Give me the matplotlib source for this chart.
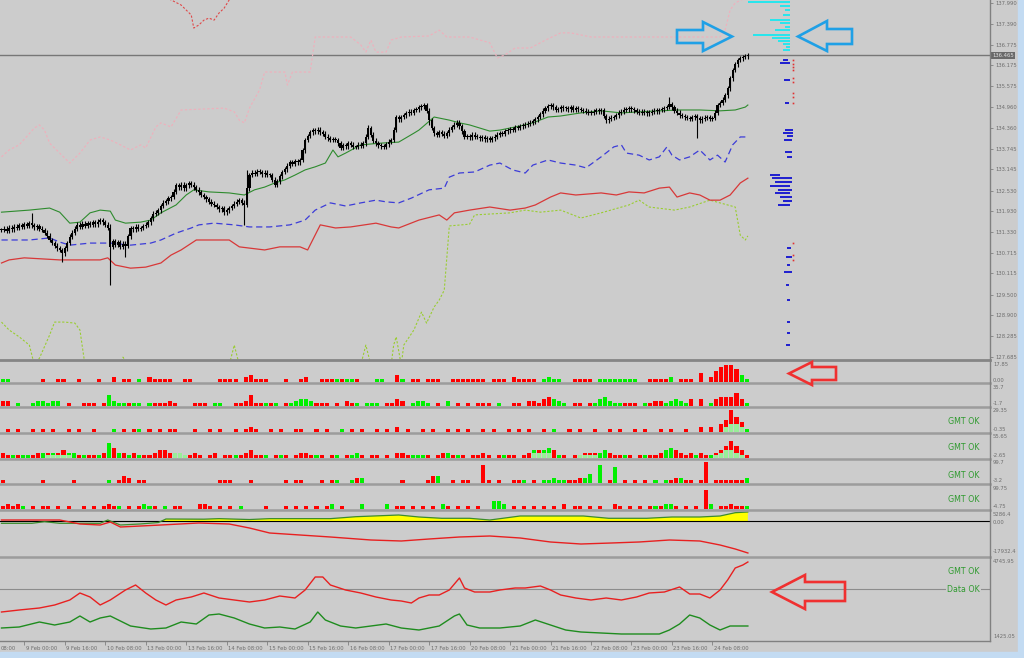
import numpy as np
import matplotlib
matplotlib.use("Agg")
import matplotlib.pyplot as plt
import matplotlib.transforms as mtransforms
from matplotlib.patches import Polygon, Rectangle
from matplotlib.lines import Line2D

# ---------------- DATA ----------------
closes = [
 131.38,131.42,131.35,131.45,131.40,131.48,131.44,131.52,131.47,131.55,131.50,131.58,131.52,131.46,131.50,131.42,131.38,131.30,131.22,131.09,
 131.00,130.92,130.85,130.80,130.70,130.85,131.00,131.18,131.30,131.42,131.53,131.48,131.56,131.50,131.58,131.53,131.60,131.55,131.62,131.67,
 131.60,131.53,131.45,130.90,131.05,130.95,131.02,130.90,130.98,130.92,131.20,131.44,131.40,131.48,131.42,131.44,131.50,131.53,131.60,131.72,
 131.85,131.88,131.95,132.08,132.17,132.22,132.30,132.34,132.50,132.69,132.62,132.70,132.60,132.68,132.75,132.70,132.62,132.55,132.48,132.40,
 132.34,132.28,132.20,132.15,132.11,132.05,131.98,132.02,131.90,131.95,132.02,132.08,132.15,132.20,132.25,132.18,132.11,132.60,132.98,133.05,
 133.02,133.08,133.07,133.00,133.05,132.98,132.98,132.85,132.69,132.80,132.95,133.07,133.15,133.25,133.36,133.30,133.38,133.35,133.42,133.70,
 134.00,134.12,134.22,134.29,134.25,134.30,134.23,134.18,134.10,134.05,134.00,134.02,134.00,133.90,133.77,133.85,133.82,133.91,133.86,133.80,
 133.80,133.86,133.84,133.91,134.10,134.35,134.15,133.98,133.91,133.85,133.82,133.80,133.88,133.95,134.00,134.30,134.67,134.60,134.67,134.72,
 134.78,134.82,134.80,134.875,134.90,134.95,134.98,135.02,134.85,134.58,134.35,134.20,134.15,134.22,134.18,134.12,134.20,134.30,134.38,134.45,
 134.50,134.40,134.25,134.09,134.12,134.08,134.15,134.10,134.09,134.05,134.08,134.02,134.06,134.00,134.05,134.10,134.15,134.20,134.18,134.25,
 134.28,134.32,134.30,134.38,134.35,134.40,134.42,134.45,134.48,134.50,134.55,134.60,134.67,134.75,134.85,134.92,134.98,135.02,134.95,134.875,
 134.90,134.95,134.92,134.93,134.90,134.95,134.88,134.93,134.90,134.875,134.85,134.82,134.80,134.79,134.83,134.86,134.84,134.875,134.70,134.58,
 134.62,134.65,134.67,134.72,134.79,134.83,134.88,134.90,134.93,134.90,134.86,134.83,134.79,134.82,134.80,134.78,134.79,134.82,134.85,134.84,
 134.875,134.90,134.93,134.96,135.05,134.95,134.85,134.79,134.72,134.70,134.66,134.64,134.62,134.66,134.70,134.64,134.58,134.62,134.65,134.67,
 134.62,134.64,134.80,135.02,135.08,135.17,135.30,135.51,135.80,136.04,136.20,136.33,136.38,136.42,136.44,136.46]
wick_high = {12: 131.88, 43: 131.55, 97: 133.13, 145: 134.45, 167: 135.08, 264: 135.25}
wick_low = {24: 130.45, 43: 129.78, 49: 130.60, 96: 131.53, 169: 134.45, 275: 134.06}
current_price = 136.465

ma_bar = [0,11,19,23,27,31,35,39,43,45,49,55,59,63,69,73,76,82,90,96,100,104,108,112,116,120,124,128,131,133,136,142,150,157,
          163,165,171,177,181,185,189,193,197,205,210,216,221,229,237,245,252,260,268,276,284,290,294,295]
ma_val = [131.90,131.96,132.02,131.90,131.58,131.61,131.88,131.96,131.93,131.67,131.58,131.61,131.67,131.88,132.11,132.40,132.55,
          132.49,132.46,132.40,132.55,132.63,132.75,132.84,132.98,133.13,133.22,133.33,133.71,133.51,133.62,133.86,133.91,133.94,
          134.20,134.29,134.67,134.58,134.50,134.44,134.35,134.26,134.29,134.41,134.50,134.67,134.70,134.79,134.85,134.79,134.82,
          134.85,134.875,134.875,134.85,134.875,134.96,135.02]

mid_bar = [0,11,19,23,27,35,43,51,59,63,69,75,78,84,92,98,106,114,120,124,130,136,142,148,152,157,162,169,175,177,181,187,193,
           197,202,207,210,216,221,227,231,237,242,245,247,252,256,260,263,265,268,272,276,280,283,286,289,292,295]
mid_val = [131.09,131.09,131.15,131.03,130.94,131.00,131.00,130.94,131.00,131.09,131.29,131.44,131.53,131.58,131.53,131.47,131.47,
           131.53,131.67,131.96,132.17,132.08,132.17,132.25,132.20,132.17,132.31,132.55,132.60,132.92,133.04,133.07,133.27,133.33,
           133.13,133.04,133.27,133.42,133.33,133.27,133.19,133.51,133.80,133.86,133.62,133.56,133.42,133.51,133.80,133.56,133.42,
           133.51,133.71,133.42,133.56,133.36,133.86,134.09,134.09]

low_bar = [0,3,9,23,39,42,45,51,57,63,67,71,77,90,94,104,110,118,121,126,132,138,148,154,157,165,173,176,179,185,193,201,207,
           211,217,221,227,237,243,248,254,260,264,267,272,276,280,284,288,292,295]
low_val = [130.42,130.51,130.57,130.51,130.51,130.57,130.36,130.27,130.30,130.42,130.65,130.80,131.09,131.09,130.89,130.80,130.89,
           130.89,130.80,131.53,131.44,131.47,131.58,131.47,131.44,131.67,131.82,131.67,131.88,131.96,132.05,131.96,132.02,132.11,
           132.34,132.46,132.40,132.46,132.40,132.49,132.46,132.60,132.63,132.34,132.46,132.40,132.25,132.25,132.40,132.75,132.89]

ygreen_bar = [0,3,7,11,13,15,19,21,25,29,31,33,47,48,50,90,92,94,142,144,146,154,155,156,158,159,163,166,168,171,173,175,177,
              185,187,201,207,213,221,229,237,248,252,256,266,272,280,290,292,294,295]
ygreen_val = [128.70,128.47,128.27,128.03,127.45,127.65,128.32,128.70,128.70,128.67,128.47,127.45,127.45,127.68,127.45,127.45,
              128.03,127.45,127.45,128.03,127.45,127.45,128.03,128.27,127.45,128.03,128.47,128.99,128.67,129.14,129.34,129.63,
              131.50,131.55,131.82,131.88,131.96,131.90,131.96,131.73,131.88,132.11,132.25,132.05,131.96,132.05,132.25,132.05,
              131.23,131.09,131.21]

pink_bar = [0,3,7,13,15,17,19,23,27,31,35,39,43,47,51,55,57,61,63,67,71,88,92,94,96,98,102,104,112,113,115,122,124,138,142,
            144,146,148,152,154,158,169,173,176,185,193,196,199,203,209,215,221,225,233,284,286,288,290,294]
pink_val = [133.51,133.71,133.86,134.35,134.44,134.29,133.91,133.62,133.33,133.62,134.00,134.09,134.00,133.86,133.71,133.86,
            133.77,134.38,134.50,134.38,134.875,134.93,134.82,134.58,134.50,134.93,135.46,135.98,135.98,135.60,135.98,135.98,
            137.00,137.00,136.77,136.56,136.91,136.56,136.56,136.91,137.00,137.03,137.20,137.00,137.00,136.83,136.39,136.48,
            136.68,136.68,136.91,137.12,137.12,137.00,137.00,137.20,137.79,137.99,138.14]

rdot_bar = [65,67,71,75,76,78,80,82,84,86,88,90,92]
rdot_val = [138.16,138.08,137.93,137.64,137.26,137.35,137.49,137.55,137.49,137.70,137.84,138.08,138.16]

# right-side level marks (price, bar start, bar end)
cyan_y = [138.02,137.90,137.79,137.64,137.49,137.41,137.29,137.20,137.06,136.97,136.88,136.80,136.71,136.62]
cyan_x0 = [295.0,307.7,309.7,308.9,303.8,307.7,309.7,305.7,297.0,304.5,306.9,308.9,310.1,308.9]
cyan_x1 = [311.7]*14
blue_y = [136.33,136.24,135.75,135.08,134.29,134.20,134.12,134.00,133.65,133.51,132.98,132.90,132.78,132.66,132.55,132.46,
          132.34,132.23,132.11,130.86,130.60,130.36,130.16,129.78,129.34,128.70,128.38,128.03]
blue_x0 = [308.9,307.7,309.3,309.7,309.7,308.9,310.5,309.3,309.7,310.5,303.8,304.5,305.7,303.8,306.9,305.7,307.7,308.9,306.9,
           310.5,310.1,310.5,309.3,310.1,310.5,310.5,310.5,310.1]
blue_x1 = [310.9,311.7,311.7,311.3,312.9,312.9,312.9,312.5,312.5,312.5,307.7,312.5,312.5,311.7,312.5,311.7,312.5,312.5,311.7,
           312.1,312.5,311.7,312.5,311.3,311.7,311.7,311.7,311.7]
reddot_y = [136.33,136.21,136.13,136.04,135.81,135.69,135.37,135.25,135.08,131.00,130.65,130.51]
reddot_x = 312.9

price_ticks = [137.990,137.390,136.775,136.175,135.575,134.960,134.360,133.745,133.145,132.530,131.930,131.330,
               130.715,130.115,129.500,128.900,128.285,127.685]

# histogram panels: digit = red bar height, letter a..i = green bar height 1..9 (one char per 2 bars)
hist_panels = [
 "aa......1..11..1...1..2.11.a.21111..1" "1.....1111.23111...1..12..111a1aa1..." "aa..3a.11.111..1111111.111.21111.abaa" "..1111.aaaaaaaa..1111b.111.4.257886ca",
 "22.a..abbabb.1..111.1ebaa1aa.a11121.." ".111.aa..112511a1a.1abccb111.1.21a.aa" "a.1132.abba.1.b.1.1.111.a..11.22134cb" "a.11.1acdbaa111.a122abcba3.3.a344463a",
 ".1.1..1.1.1..1.1..1...a.1.1a.1.1.11.." ".1..1.1..1.121..1.1..11..1.1..a.1.1.." "1.1.2.1..1.1..1.1.1..1.1..1.1.1..1.a." ".1.1..1..1.1..1.1..1.1..1..2.2.35964a",
 "21a1aa12b2b23bb1a11a2f4b2a2a112332ba1" "121.12.11a12311a.1a1.1221a1.1a.1ab1.1" "1.1.221aaa1.12b1a1.1121.1a11.12c3cd3a" "1.11222bc211a1.1a112cd3212a21a2357531",
 "1.......1.....1......a.132.11........" "......111...1......1.11...1.1a..a2b.." ".....1....13c..1.11..81.1..11a.1.aaba" "a112bd.h.1g.1.1.1.a.a12b11.19.111111b",
 "1212a.1.11.1.1..1.1.121a.1.1ba1.a.11." "..221.1.1.a....1...1.1.1.1.1b.1...b.." "..b.11.1.1.1.b1.1.1.1..ccb.1.1.1.1.1." "2.11.1.1..21.1.1.1a1bb1.1.1.8b.11211a",
]
light4_idx = [143,144,145,146]
light4_val = [2,3,3,2]
light5_idx = [9,10,11,12,13,34,35,36,105,106,107,108,114,115,116,117,141,142,143,144,145,146]
light5_val = [1,1,1,1,1,2,2,1,2,2,2,2,1,1,1,1,1,2,3,3,2,1]

p8_red_bar = [0,15,23,31,39,43,47,63,78,90,98,106,118,130,146,158,169,181,193,205,217,229,241,252,264,276,284,290,295]
p8_red_val = [736,736,736,-1528,-2094,-396,-3226,-2094,-962,-1528,-3792,-6622,-7754,-8886,-10584,-11150,-10018,-8886,
              -8320,-9452,-11716,-12848,-12282,-11716,-10584,-11150,-13414,-15678,-17932]
p8_grn_bar = [0,12,17,23,39,42,47,55,62,65,80,86,98,106,130,140,157,165,174,185,193,205,230,240,255,265,276,284,290,295]
p8_grn_val = [-1132,-1132,-226,-1132,-1132,736,-2094,-1500,-700,1300,1200,1500,1000,1500,1500,2600,3566,2434,1700,1700,
              736,3000,3000,1700,1700,2434,2434,3000,4868,5286]

p9_red_bar = [0,7,15,21,27,31,35,39,43,49,53,57,61,65,69,75,80,86,92,98,104,110,116,120,124,127,130,136,142,148,154,158,162,
              165,169,173,177,181,183,187,193,197,203,207,213,217,221,227,233,239,245,251,256,262,268,272,276,280,284,287,290,293,295]
p9_red_val = [2573,2655,2737,2860,3065,3352,3188,2860,3065,3475,3680,3352,3065,2860,3065,3188,3352,3147,3065,2983,3065,3229,
              3147,3475,4008,4008,3680,3475,3352,3188,3065,3024,2942,3147,3270,3270,3475,3967,3557,3393,3393,3475,3557,3557,
              3639,3475,3270,3147,3065,3147,3065,3188,3352,3393,3598,3311,3311,3147,3475,3885,4377,4500,4623]
p9_grn_bar = [0,7,15,21,27,31,35,39,43,51,59,65,71,77,82,86,92,98,104,110,116,122,125,128,134,140,146,152,158,165,173,179,181,
              184,189,197,205,211,217,223,229,237,245,252,260,264,268,272,276,280,284,288,292,295]
p9_grn_val = [1917,1958,2163,2040,2163,2409,2163,2327,2409,1999,1876,1917,2163,2081,2450,2491,2327,2081,1917,1958,1876,2163,
              2573,2245,1999,1917,1999,2081,1917,1835,1999,2409,2491,2040,1917,1917,1999,2245,2040,1835,1753,1712,1671,1671,
              1671,1835,2081,2450,2327,2040,1835,1999,1999,1999]
p9_level = 3516

x_tick_bars = [9,25,41,57,73,89,105,121,137,153,169,185,201,217,233,249,265,281]
x_tick_labels = ["9 Feb 00:00","9 Feb 16:00","10 Feb 08:00","13 Feb 00:00","13 Feb 16:00","14 Feb 08:00","15 Feb 00:00",
                 "15 Feb 16:00","16 Feb 08:00","17 Feb 00:00","17 Feb 16:00","20 Feb 08:00","21 Feb 00:00","21 Feb 16:00",
                 "22 Feb 08:00","23 Feb 00:00","23 Feb 16:00","24 Feb 08:00"]
first_partial = (-0.3, "08:00")

panel_labels = [("17.85",364.5),("0.00",380),("35.7",387.5),("-1.7",403.5),("29.35",411),("-0.35",429.5),
                ("55.65",437),("-2.65",455.5),("99.7",463),("-3.2",481),("99.75",488.5),("-4.75",506.5),
                ("5286.4",514),("0.00",522.5),("-17932.4",551.5),("4745.95",561.5),("1425.05",637)]
status_texts = [("GMT OK",421.5),("GMT OK",448),("GMT OK",475),("GMT OK",500),("GMT OK",572),("Data OK",589.5)]

# ---------------- FIGURE ----------------
W, H = 1024, 658
BG = "#CCCCCC"
fig = plt.figure(figsize=(W/100, H/100), dpi=100)
fig.patch.set_facecolor(BG)
plt.rcParams['font.family'] = ['DejaVu Sans']
XL = (-0.59, 390.7)
AXC = "#6E6E6E"

def add_ax(y0, y1, x0=0, x1=990):
    ax = fig.add_axes([x0/W, 1-y1/H, (x1-x0)/W, (y1-y0)/H])
    ax.set_facecolor("none")
    for s in ax.spines.values():
        s.set_visible(False)
    ax.set_xlim(*XL)
    ax.set_xticks([]); ax.set_yticks([])
    return ax

def fpt(x, y):
    return (x/W, 1-y/H)

# main price panel
ax = add_ax(0, 360)
ax.set_ylim(127.596, 138.077)
n = len(closes)
bars = np.arange(n)
c = np.array(closes)
o = np.concatenate([[c[0]], c[:-1]])
hi = np.maximum(o, c) + 0.07
lo = np.minimum(o, c) - 0.07
for k, v in wick_high.items(): hi[k] = v
for k, v in wick_low.items(): lo[k] = v
ax.plot(pink_bar, pink_val, color="#EFB0BC", lw=0.85, ls=(0, (2, 1.8)), zorder=2)
ax.plot(rdot_bar, rdot_val, color="#E04848", lw=0.8, ls=(0, (2, 1.6)), zorder=2)
ax.plot(ygreen_bar, ygreen_val, color="#9ACD32", lw=0.8, ls=(0, (2, 1.6)), zorder=2)
ax.plot(low_bar, low_val, color="#D83838", lw=0.9, zorder=3)
ax.plot(mid_bar, mid_val, color="#3C3CD8", lw=0.9, ls=(0, (5, 3)), zorder=3)
ax.plot(ma_bar, ma_val, color="#2E8B2E", lw=0.8, zorder=3)
ax.vlines(bars, lo, hi, color="black", lw=0.8, zorder=4)
body_lo = np.minimum(o, c)
body_h = np.maximum(np.abs(c - o), 0.03)
ax.bar(bars, body_h, bottom=body_lo, width=0.85, color="black", zorder=5)
ax.axhline(current_price, color="#777777", lw=1.0, zorder=1)
ax.hlines(cyan_y, cyan_x0, cyan_x1, color="#18E8F0", lw=1.3, zorder=3)
ax.hlines(blue_y, blue_x0, blue_x1, color="#0000D0", lw=1.2, zorder=3)
ax.plot([reddot_x]*len(reddot_y), reddot_y, ls="none", marker="s", ms=1.2, color="#E03030", mew=0)
ax.yaxis.tick_right()
ax.set_yticks(price_ticks)
ax.set_yticklabels([f"{t:.3f}" for t in price_ticks])
ax.tick_params(axis="y", length=2.5, width=0.6, color="#808080", pad=1.5, labelsize=3.8, labelcolor=AXC)
ax.text(1.0 + 2/990, current_price, f"{current_price:.3f}", transform=ax.get_yaxis_transform(),
        fontsize=3.8, color="#E0E0E0", va="center", ha="left",
        bbox=dict(boxstyle="square,pad=0.25", fc="#6A6A6A", ec="none"), zorder=10)

# histogram panels
RED, GRN, LGRN = "#FF0000", "#00F000", "#98EE98"
bounds = [(360, 383), (383, 407), (407, 433), (433, 459), (459, 484), (484, 510)]
for pi, (s, (y0, y1)) in enumerate(zip(hist_panels, bounds)):
    hx = add_ax(y0 + 2, y1 - 1.5)
    hx.set_ylim(0, 9.6)
    rx, rv, gx, gv = [], [], [], []
    for j, ch in enumerate(s):
        if ch == ".":
            continue
        if ch.isdigit():
            rx.append(2*j + 0.5); rv.append(int(ch))
        else:
            gx.append(2*j + 0.5); gv.append(ord(ch) - 96)
    hx.bar(gx, gv, width=1.6, color=GRN, linewidth=0)
    hx.bar(rx, rv, width=1.6, color=RED, linewidth=0)
    if pi == 2:
        hx.bar([2*j + 0.5 for j in light4_idx], light4_val, width=1.6, color=LGRN, linewidth=0)
    if pi == 3:
        hx.bar([2*j + 0.5 for j in light5_idx], light5_val, width=1.6, color=LGRN, linewidth=0)

# panel 8
a8 = add_ax(510, 557)
a8.set_ylim(-20206, 6396)
gb = np.array(p8_grn_bar); gvv = np.array(p8_grn_val)
a8.fill_between(gb, 0, gvv, where=gvv > 0, interpolate=True, color="#FFFF00", lw=0, zorder=1)
a8.axhline(0, color="black", lw=0.8, zorder=2)
a8.plot(p8_grn_bar, p8_grn_val, color="#3C8C2C", lw=0.9, zorder=3)
a8.plot(p8_red_bar, p8_red_val, color="#E82020", lw=1.0, zorder=3)

# panel 9
a9 = add_ax(557, 641)
a9.set_ylim(1384, 4828)
a9.axhline(p9_level, color="#8C8C8C", lw=0.8, zorder=1)
a9.plot(p9_red_bar, p9_red_val, color="#E82020", lw=1.0, zorder=3)
a9.plot(p9_grn_bar, p9_grn_val, color="#1E8C1E", lw=1.0, zorder=3)
a9.set_xticks(x_tick_bars)
a9.set_xticklabels(x_tick_labels, ha="left")
a9.tick_params(axis="x", length=3, width=0.6, color="#808080", pad=0.5, labelsize=3.8, labelcolor=AXC)
off = mtransforms.ScaledTranslation(1.5/100, 0, fig.dpi_scale_trans)
for lab in a9.get_xticklabels():
    lab.set_transform(lab.get_transform() + off)
a9.text(first_partial[0], -0.055, first_partial[1], transform=a9.get_xaxis_transform(),
        fontsize=3.8, color=AXC, ha="left", va="top", clip_on=False)

# panel separators / frame
for y in [383, 407, 433, 459, 484, 510, 557]:
    fig.add_artist(Line2D([0, 990/W], [1-y/H]*2, color="#9C9C9C", lw=1.8, zorder=20))
fig.add_artist(Line2D([0, 990/W], [1-360/H]*2, color="#858585", lw=2.0, zorder=20))
fig.add_artist(Line2D([0, 990/W], [1-641/H]*2, color="#808080", lw=1.0, zorder=20))
fig.add_artist(Line2D([990/W]*2, [1-641/H, 1], color="#808080", lw=1.0, zorder=20))

# right-side panel labels
for txt, y in panel_labels:
    fig.text(993/W, 1-y/H, txt, fontsize=3.8, color=AXC, ha="left", va="center")

# status texts
for txt, y in status_texts:
    kw = {}
    if txt.startswith("Data"):
        kw["bbox"] = dict(boxstyle="square,pad=0.1", fc=BG, ec="none")
    fig.text(980/W, 1-y/H, txt, fontsize=5.7, color="#2F9A2F", ha="right", va="center", zorder=25, **kw)

# annotation arrows
def arrow(pts, col):
    fig.add_artist(Polygon([fpt(x, y) for x, y in pts], closed=True, fill=False,
                           edgecolor=col, lw=1.9, joinstyle="miter", zorder=30))
arrow([(677,30),(703,30),(703,22),(732,36.5),(703,51),(703,43),(677,43)], "#1FA0E6")
arrow([(852,29),(827,29),(827,21),(798,36.5),(827,51),(827,44),(852,44)], "#1FA0E6")
arrow([(836,367),(812,367),(812,362),(789,373.5),(812,385),(812,380),(836,380)], "#F03030")
arrow([(845,582),(805,582),(805,575),(772,592),(805,609),(805,601),(845,601)], "#F03030")

# window border strips
fig.add_artist(Rectangle((1018/W, 0), 6/W, 1, color="#C3DBF2", zorder=40))
fig.add_artist(Rectangle((0, 0), 1, 6/H, color="#C3DBF2", zorder=40))

fig.savefig("out.png", dpi=100, facecolor=BG)
